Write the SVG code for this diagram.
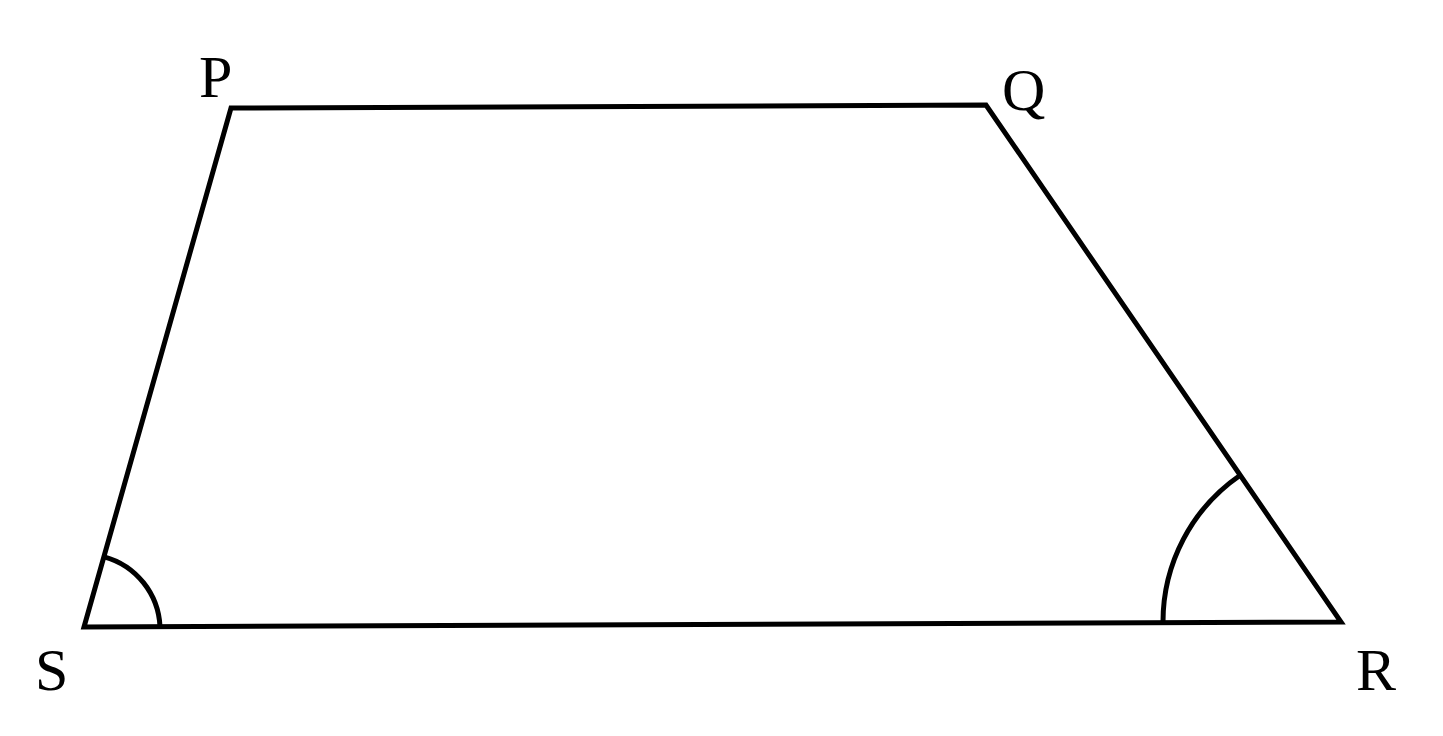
<svg xmlns="http://www.w3.org/2000/svg" width="1443" height="736" viewBox="0 0 1443 736">
<style>
.ln{fill:none;stroke:#000;stroke-width:5;stroke-linejoin:miter;stroke-linecap:butt}
.lb{font-family:"Liberation Serif","Times New Roman",serif;font-size:60px;fill:#000}
</style>
<rect width="1443" height="736" fill="#fff"/>
<g id="connectors">
<path class="ln" d="M231,108 L986,105 L1341,622 L84,627 Z"/>
<path class="ln" d="M104.2,556.8 A76,76 0 0 1 160,626.7"/>
<path class="ln" d="M1240.2,475.2 A178,178 0 0 0 1163,622.7"/>
</g>
<g id="P"><text class="lb" x="199" y="97">P</text></g>
<g id="Q"><text class="lb" x="1002" y="110">Q</text></g>
<g id="S"><text class="lb" x="35" y="690">S</text></g>
<g id="R"><text class="lb" x="1356" y="690">R</text></g>
</svg>
